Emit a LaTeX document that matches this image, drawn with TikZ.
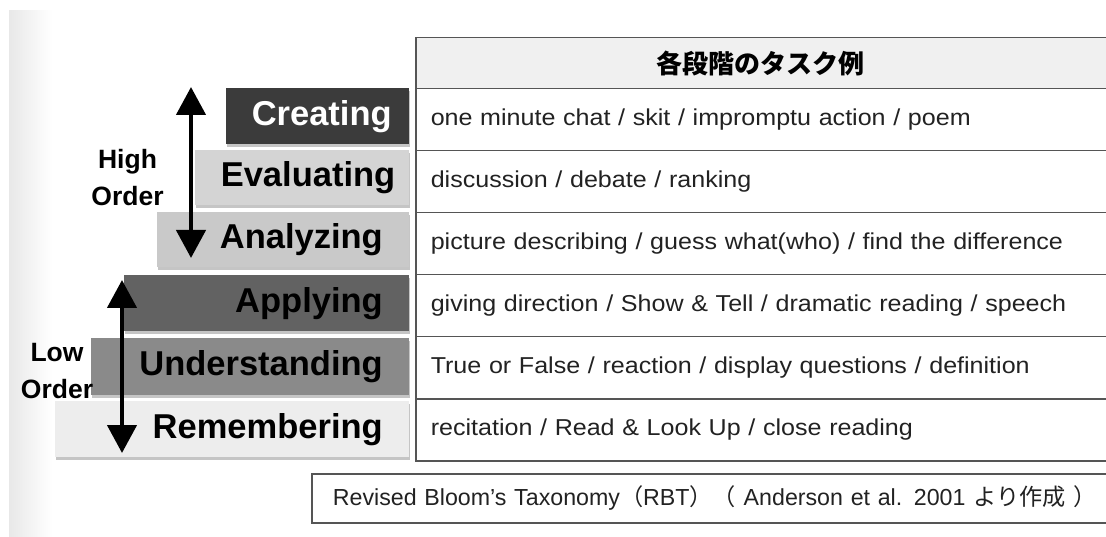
\documentclass[tikz,border=0pt]{standalone}
\usepackage{fontspec}
\setmainfont{Liberation Sans}
\newfontfamily\widesans[FakeStretch=1.09]{Liberation Sans}
\newfontfamily\cjk{Noto Sans CJK JP}
\usetikzlibrary{shadows,arrows.meta}
\definecolor{tline}{HTML}{555555}
\definecolor{ttext}{HTML}{222222}
\definecolor{hdrbg}{HTML}{F0F0F0}
\definecolor{cCre}{HTML}{3B3B3B}
\definecolor{cEva}{HTML}{D4D4D4}
\definecolor{cAna}{HTML}{C9C9C9}
\definecolor{cApp}{HTML}{626262}
\definecolor{cUnd}{HTML}{8A8A8A}
\definecolor{cRem}{HTML}{EDEDED}
\tikzset{
  stairbox/.style={rectangle, anchor=north east, inner sep=0pt, minimum height=56pt,
    text width=#1-52pt, align=right, minimum width=#1,
    font=\fontsize{34.5}{38}\selectfont\bfseries,
    drop shadow={shadow xshift=1pt, shadow yshift=-3pt, opacity=.45}},
  orderlbl/.style={align=center, inner sep=0pt, font=\fontsize{26.5}{37}\selectfont\bfseries},
  trow/.style={rectangle, draw=tline, line width=1.5pt, anchor=north west,
    minimum width=720pt, minimum height=62pt, text width=690pt, align=left,
    inner xsep=14pt, inner ysep=0pt, text=ttext, font=\widesans\fontsize{23}{26}\selectfont},
  bigarrow/.style={line width=4.5pt, {Triangle[width=29pt,length=28pt]}-{Triangle[width=29pt,length=28pt]}}
}
\begin{document}
\begin{tikzpicture}[x=1pt,y=-1pt]
\useasboundingbox (0,0) rectangle (1106,537);
\clip (0,0) rectangle (1106,537);
\fill[white] (0,0) rectangle (1106,537);
\shade[left color=black!9, right color=white] (9,11) rectangle (52,537);
% stair boxes
\node[stairbox=183pt, fill=cCre, text=white] (cre) at (409,88) {Creating};
\node[stairbox=214pt, fill=cEva, minimum height=55pt] (eva) at (409,150) {Evaluating};
\node[stairbox=252pt, fill=cAna, minimum height=55pt] (ana) at (409,212) {Analyzing};
\node[stairbox=285pt, fill=cApp] (app) at (409,275) {Applying};
\node[stairbox=318pt, fill=cUnd, minimum height=57pt] (und) at (409,338) {Understanding};
\node[stairbox=354pt, fill=cRem] (rem) at (409,401) {Remembering};
% arrows
\coordinate (hiTop) at (191,87);
\coordinate (hiBot) at (191,258);
\coordinate (loTop) at (122,280);
\coordinate (loBot) at (122,453);
\draw[bigarrow] (hiTop) -- (hiBot);
\draw[bigarrow] (loTop) -- (loBot);
\node[orderlbl] (hi) at (127.5,178) {High\\Order};
\node[orderlbl] (lo) at (57,371) {Low\\Order};
% table
\node[trow, fill=hdrbg, minimum height=51pt, align=center,
  font=\fontsize{26}{30}\selectfont\cjk\bfseries, text=black] (hdr) at (415,37) {各段階のタスク例\hspace*{30pt}};
\node[trow] (r1) at (415,88) {one minute chat / skit / impromptu action / poem};
\node[trow] (r2) at (415,150) {discussion / debate / ranking};
\node[trow] (r3) at (415,212) {picture describing / guess what(who) / find the difference};
\node[trow] (r4) at (415,274) {giving direction / Show \& Tell / dramatic reading / speech};
\node[trow] (r5) at (415,336) {True or False / reaction / display questions / definition};
\node[trow] (r6) at (415,398) {recitation / Read \& Look Up / close reading};
% caption
\node[rectangle, draw=tline, line width=1.8pt, anchor=north west, minimum width=820pt,
  minimum height=49pt, text width=790pt, align=left, inner xsep=21pt, inner ysep=0pt,
  text=ttext, font=\fontsize{23.2}{27}\selectfont] (cap) at (311,473)
  {Revised Bloom’s Taxonomy{\cjk（}RBT{\cjk）}{\cjk（} Anderson et al. 2001 {\cjk より作成} {\cjk）}};
\end{tikzpicture}
\end{document}
